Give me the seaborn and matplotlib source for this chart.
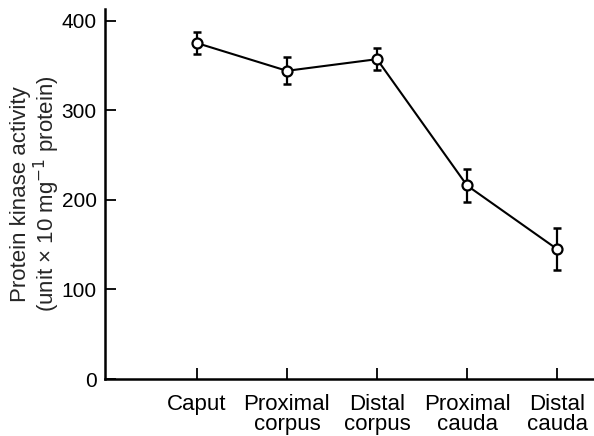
import matplotlib
matplotlib.use("Agg")
import matplotlib.pyplot as plt
import seaborn as sns
import numpy as np
import pandas as pd

regions = ["Caput", "Proximal\ncorpus", "Distal\ncorpus", "Proximal\ncauda", "Distal\ncauda"]
activity = [375, 344, 357, 216, 145]
sem = [12, 15, 12, 18, 23]
yticks = [0, 100, 200, 300, 400]

sns.set_theme(style="ticks")
plt.rcParams["font.family"] = ["Liberation Sans", "DejaVu Sans"]

fig = plt.figure(figsize=(5.94, 4.36), dpi=100)
ax = fig.add_axes([105/594, 57/436, 1 - 105/594, (379 - 9)/436])

pos = np.arange(len(regions))
df = pd.DataFrame({"pos": pos, "activity": activity, "sem": sem})

ax.errorbar(df["pos"], df["activity"], yerr=df["sem"], fmt="none",
            ecolor="black", elinewidth=1.6, capsize=3, capthick=1.8, zorder=2)
sns.lineplot(data=df, x="pos", y="activity", ax=ax, color="black",
             linewidth=1.5, marker="o", markersize=7.2, markerfacecolor="white",
             markeredgecolor="black", markeredgewidth=1.6, zorder=3)

ax.set_xlim(-1.02, 4.41)
ax.set_ylim(0, 413)
ax.set_xticks(pos)
ax.set_xticklabels(regions, fontsize=16, linespacing=0.95)
ax.set_yticks(yticks)
ax.set_yticklabels([str(v) for v in yticks], fontsize=15)
ax.set_xlabel("")
ax.set_ylabel("Protein kinase activity\n(unit \u00d7 10 mg$^{-1}$ protein)", fontsize=16,
              linespacing=1.0, labelpad=0)

for s in ["top", "right"]:
    ax.spines[s].set_visible(False)
for s in ["left", "bottom"]:
    ax.spines[s].set_linewidth(1.8)
    ax.spines[s].set_color("black")
ax.tick_params(axis="both", direction="in", length=8, width=1.3, colors="black")
ax.tick_params(axis="x", pad=11)
ax.tick_params(axis="y", pad=6)

fig.savefig("out.png", dpi=100)
